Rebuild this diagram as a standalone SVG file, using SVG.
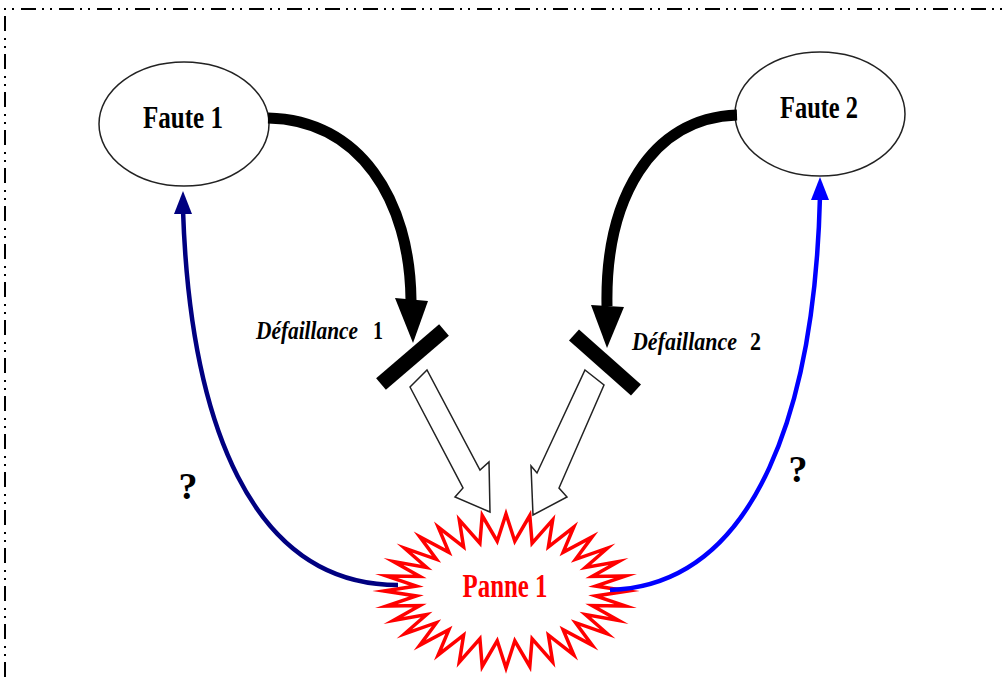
<svg xmlns="http://www.w3.org/2000/svg" width="1003" height="677" viewBox="0 0 1003 677">
<style>
.lbl{font-family:"Liberation Serif","Times New Roman",serif;font-weight:bold;}
.it{font-style:italic;}
.node{fill:#fff;stroke:#222;stroke-width:1.5;}
.blk{fill:none;stroke:#000;stroke-width:11;}
.bar{stroke:#000;stroke-width:15;}
.hollow{fill:#fff;stroke:#222;stroke-width:1.5;stroke-linejoin:miter;}
</style>
<rect width="1003" height="677" fill="#fff"/>
<path d="M5,677 L5,9 L1003,9" fill="none" stroke="#000" stroke-width="2" stroke-dasharray="15 6 2 6 2 7"/>

<g id="faute1">
<ellipse class="node" cx="184" cy="124" rx="85" ry="62"/>
<text class="lbl" x="183" y="128" font-size="32" text-anchor="middle" textLength="80" lengthAdjust="spacingAndGlyphs">Faute 1</text>
</g>
<g id="faute2">
<ellipse class="node" cx="820" cy="114" rx="85" ry="62"/>
<text class="lbl" x="819" y="118" font-size="32" text-anchor="middle" textLength="78" lengthAdjust="spacingAndGlyphs">Faute 2</text>
</g>
<g id="defaillance1">
<line class="bar" x1="381" y1="384" x2="444" y2="330"/>
<text class="lbl it" x="256" y="339" font-size="25" textLength="102" lengthAdjust="spacingAndGlyphs">Défaillance</text>
<text class="lbl" x="373" y="339" font-size="25" textLength="10" lengthAdjust="spacingAndGlyphs">1</text>
</g>
<g id="defaillance2">
<line class="bar" x1="574" y1="335" x2="636" y2="390"/>
<text class="lbl it" x="632" y="350" font-size="25" textLength="105" lengthAdjust="spacingAndGlyphs">Défaillance</text>
<text class="lbl" x="750" y="350" font-size="25" textLength="11" lengthAdjust="spacingAndGlyphs">2</text>
</g>
<g id="panne1">
<polygon fill="#fff" stroke="#f00" stroke-width="3.5" stroke-linejoin="miter" stroke-miterlimit="10" points="628,591 595.6,586.1 625.7,576 592.1,576.5 618.7,561.5 585.4,567.4 607.4,548.2 575.6,559.3 592.3,536.6 563.1,552.3 573.8,527 548.4,546.9 552.7,519.9 532.1,543.2 529.8,515.5 514.8,541.2 506,514 497.2,541.2 482.2,515.5 479.9,543.2 459.3,519.9 463.6,546.9 438.2,527 448.9,552.3 419.7,536.6 436.4,559.3 404.6,548.2 426.6,567.4 393.3,561.5 419.9,576.5 386.3,576 416.4,586.1 384,591 416.4,595.9 386.3,606 419.9,605.5 393.3,620.5 426.6,614.6 404.6,633.8 436.4,622.7 419.7,645.4 448.9,629.7 438.2,655 463.6,635.1 459.3,662.1 479.9,638.8 482.2,666.5 497.2,640.8 506,668 514.8,640.8 529.8,666.5 532.1,638.8 552.7,662.1 548.4,635.1 573.8,655 563.1,629.7 592.3,645.4 575.6,622.7 607.4,633.8 585.4,614.6 618.7,620.5 592.1,605.5 625.7,606 595.6,595.9"/>
<text class="lbl" x="505" y="597" font-size="34" fill="#f00" text-anchor="middle" textLength="85" lengthAdjust="spacingAndGlyphs">Panne 1</text>
</g>

<g id="connectors">
<path class="blk" d="M268,118 C360,120 410,200 411,300"/>
<polygon points="395,298 428,301 413,343" fill="#000"/>
<path class="blk" d="M737,115 C650,118 605,200 607,306"/>
<polygon points="591,305 624,307 607,348" fill="#000"/>
<polygon class="hollow" points="410,387 427,370 480,470 489,462 490,512 455,497 463,488"/>
<polygon class="hollow" points="585,370 604,385 559,488 567,497 533,515 531,466 537,473"/>
<path d="M398,585 C250,585 190,420 183,210" fill="none" stroke="#000080" stroke-width="4.5"/>
<polygon points="174,214 192,214 183,191" fill="#000080"/>
<path d="M610,590 C760,585 815,400 820,196" fill="none" stroke="#0000ff" stroke-width="4.5"/>
<polygon points="811,200 829,200 820,177" fill="#0000ff"/>
<text class="lbl" x="188" y="499" font-size="38" text-anchor="middle">?</text>
<text class="lbl" x="798" y="482" font-size="38" text-anchor="middle">?</text>
</g>
</svg>
